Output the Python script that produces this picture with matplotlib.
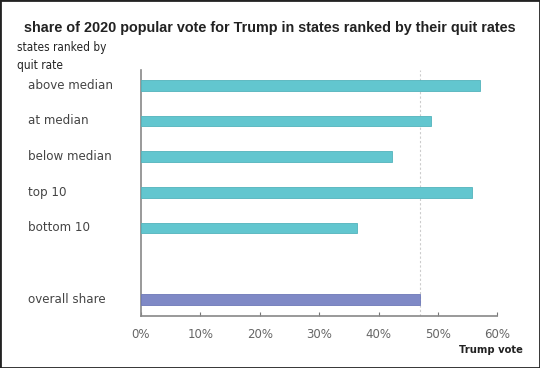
import numpy as np
import matplotlib
matplotlib.use('Agg')
import matplotlib.pyplot as plt

categories = ['above median', 'at median', 'below median', 'top 10', 'bottom 10', '', 'overall share']
values = [57.0, 48.8, 42.3, 55.8, 36.3, None, 46.9]
overall = 46.9
xticks = [0, 10, 20, 30, 40, 50, 60]

teal = '#62c6cf'
purple = '#7f89c6'

fig = plt.figure(figsize=(5.4, 3.68), dpi=100)
ax = fig.add_axes([0.261, 0.142, 0.66, 0.668])

ypos = np.arange(len(categories))
for y, v, c in zip(ypos, values, categories):
    if v is None:
        continue
    col = purple if c == 'overall share' else teal
    edge = '#6d78b8' if c == 'overall share' else '#52b3bc'
    ax.barh(y, v, height=0.3, color=col, edgecolor=edge, linewidth=0.6, zorder=3)

ax.axvline(overall, color='#cccccc', linestyle=(0, (2, 2)), linewidth=0.8, zorder=1)

ax.set_xlim(0, 60)
ax.set_ylim(len(categories) - 1 + 0.46, -0.43)
ax.set_xticks(xticks)
ax.set_xticklabels([f'{t}%' for t in xticks], color='#666666', fontsize=8.5)
ax.set_yticks([])
ax.tick_params(axis='x', direction='in', length=3, color='#777777', pad=9)

for s in ['top', 'right']:
    ax.spines[s].set_visible(False)
ax.spines['left'].set_color('#888888')
ax.spines['left'].set_linewidth(1.2)
ax.spines['bottom'].set_color('#888888')
ax.spines['bottom'].set_linewidth(1.2)

for y, c in zip(ypos, categories):
    if c:
        ax.text(28 / 540, ax.transData.transform((0, y))[1] / 368, c,
                transform=fig.transFigure, ha='left', va='center',
                fontsize=8.6, color='#444444')

fig.text(0.5, 1 - 28 / 368, 'share of 2020 popular vote for Trump in states ranked by their quit rates',
         ha='center', va='center', fontsize=10.4, fontweight='bold', color='#222222',
         family='Liberation Sans')
fig.text(17 / 540, 1 - 57 / 368, 'states ranked by\nquit rate', ha='left', va='center',
         fontsize=8.5, color='#222222', family='DejaVu Sans', fontstretch='condensed',
         linespacing=1.5)
fig.text(523 / 540, 1 - 350 / 368, 'Trump vote', ha='right', va='center',
         fontsize=8, color='#222222', family='DejaVu Sans', fontstretch='condensed',
         fontweight='bold')

fig.patches.append(plt.Rectangle((0, 0), 1, 1, transform=fig.transFigure,
                                 fill=False, edgecolor='#222222', linewidth=2))

plt.savefig('out.png', dpi=100)
